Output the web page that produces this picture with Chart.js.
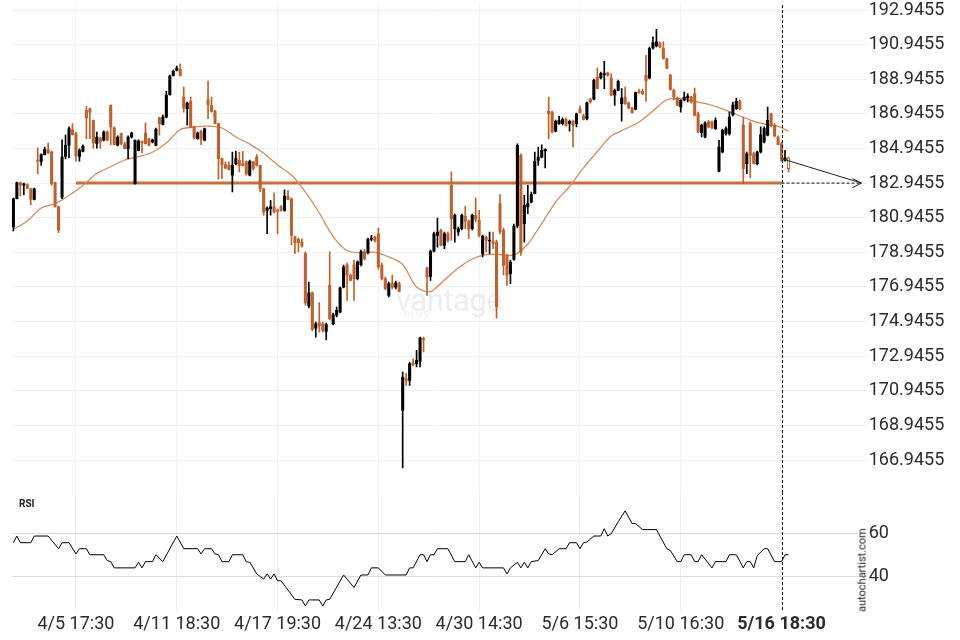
<!DOCTYPE html>
<html>
<head>
<meta charset="utf-8">
<script src="https://cdn.jsdelivr.net/npm/chart.js@4.4.1/dist/chart.umd.min.js"></script>
<style>
  body { margin: 0; background: #fff; }
  #wrap { position: relative; width: 960px; height: 640px; overflow: hidden; font-family: Roboto, sans-serif; }
  canvas { position: absolute; left: 0; }
  #main { top: 2px; }
  #rsi { top: 492px; }
  .lbl { position: absolute; color: #222; white-space: nowrap; }
  #rsiTitle { left: 19px; top: 498px; font-size: 10px; font-weight: bold; }
  #brand { left: 862px; top: 570px; font-size: 11px; transform: translate(-50%, -50%) rotate(-90deg); }
  #wm { left: 396px; top: 282px; font-size: 31px; color: rgba(170,178,185,0.24); letter-spacing: -0.5px; }
  #wm2 { left: 404px; top: 310px; font-size: 9px; color: rgba(200,110,60,0.18); letter-spacing: 1px; }
</style>
</head>
<body>
<div id="wrap">
  <div class="lbl" id="wm">vantage</div>
  <div class="lbl" id="wm2">PLUS</div>
  <canvas id="main" width="960" height="492"></canvas>
  <canvas id="rsi" width="960" height="148"></canvas>
  <div class="lbl" id="rsiTitle">RSI</div>
  <div class="lbl" id="brand">autochartist.com</div>
</div>
<script>
// slots on the time axis (candles + empty room for the projection)
const slotCount = 246;
const tickIdx = [18, 47, 76, 105, 134, 163, 192, 221];
const tickText = ['4/5 17:30', '4/11 18:30', '4/17 19:30', '4/24 13:30', '4/30 14:30', '5/6 15:30', '5/10 16:30', '5/16 18:30'];
const yTicks = [166.9455, 168.9455, 170.9455, 172.9455, 174.9455, 176.9455, 178.9455, 180.9455, 182.9455, 184.9455, 186.9455, 188.9455, 190.9455, 192.9455];
const rsiTicks = [40, 60];

// hourly candles
const opens = [180.41,182.04,182.97,182.82,182.85,182.62,182.01,184.28,184.20,184.59,
184.88,184.74,182.97,181.57,182.14,184.49,185.13,186.03,185.80,184.49,
184.78,187.15,187.24,186.57,185.22,185.55,185.42,185.90,187.44,186.13,
185.13,185.80,185.22,184.93,185.61,182.91,184.84,185.38,185.84,185.51,
185.32,185.13,186.71,186.34,186.76,188.05,189.17,189.46,189.52,187.92,
187.24,187.67,186.19,185.51,185.94,185.42,187.76,187.44,187.11,186.38,
184.36,184.01,183.97,183.40,184.07,184.26,184.07,184.17,183.40,184.17,
184.45,183.97,182.62,181.37,181.47,181.57,181.37,181.57,181.37,182.20,
182.04,179.83,179.70,179.54,178.87,175.85,176.61,174.57,174.88,174.82,
174.38,177.04,174.82,175.31,175.50,176.94,178.23,177.62,178.23,177.42,
178.23,178.97,178.92,179.70,179.83,180.02,178.19,177.42,176.46,177.14,
176.94,177.14,169.82,171.65,171.55,172.57,172.51,172.65,173.96,178.04,
177.56,179.01,179.93,180.22,179.35,180.02,182.82,180.31,180.12,180.31,
181.03,180.74,180.31,181.08,180.80,178.85,179.83,179.60,179.58,179.54,
181.76,180.22,178.77,177.71,178.54,180.47,184.55,180.60,181.57,181.85,
182.33,184.26,184.45,184.80,187.09,187.05,185.94,186.38,186.38,186.61,
186.38,186.52,186.38,187.24,186.82,186.67,187.79,187.79,189.07,189.02,
189.21,189.32,189.02,188.02,188.31,187.53,187.92,187.59,187.28,187.21,
188.21,188.25,189.17,189.02,190.75,190.87,191.00,190.71,190.13,189.17,
188.31,187.86,187.34,187.73,187.86,187.92,188.11,186.95,185.86,185.61,
186.48,186.48,186.09,183.63,184.74,185.80,185.80,186.88,187.24,187.67,
186.28,184.07,186.38,184.64,184.07,184.74,185.32,185.71,186.95,186.28,
185.61,185.22,184.26,184.40];
const highs = [182.08,183.01,183.01,182.95,182.91,182.66,182.66,184.99,184.63,185.03,
185.26,184.80,183.01,181.62,185.45,185.74,186.19,186.38,185.90,184.92,
185.15,187.38,187.28,186.59,185.90,185.61,185.96,185.96,187.47,186.19,
185.67,185.84,185.32,185.67,185.90,185.44,185.44,185.38,186.42,185.55,
185.49,186.13,186.76,186.88,188.25,189.19,189.48,189.71,189.84,188.50,
187.63,187.92,186.24,185.90,186.01,186.13,188.84,187.92,187.17,186.42,
184.40,184.17,184.17,184.74,184.80,184.74,184.78,184.22,184.28,184.22,
184.59,183.99,182.66,181.57,181.95,182.39,181.45,181.66,182.55,182.53,
182.08,179.89,179.77,179.73,178.97,177.23,176.66,174.92,176.04,174.92,
174.86,178.97,175.44,175.79,176.94,178.21,178.33,177.69,178.50,178.45,
179.08,179.12,179.77,179.93,179.89,180.35,178.33,177.52,177.23,177.65,
177.29,177.23,172.03,171.94,172.61,172.80,173.29,174.05,174.05,178.10,
179.08,180.12,180.93,180.29,180.12,180.12,183.59,181.16,180.41,181.16,
181.62,180.81,181.16,182.08,181.37,179.95,179.89,180.12,180.12,179.66,
182.28,180.35,178.85,178.50,180.58,185.22,184.63,182.24,182.82,182.43,
184.74,185.03,185.16,184.92,187.92,187.11,186.59,186.80,186.71,186.71,
186.59,186.59,186.99,187.40,186.94,187.63,187.86,188.96,189.59,189.36,
189.98,189.36,189.27,188.38,188.90,188.40,188.50,187.63,187.34,188.21,
188.38,188.38,190.33,190.81,191.39,191.83,191.10,191.10,190.17,189.25,
188.38,187.92,187.75,188.21,188.11,187.98,188.44,187.05,186.36,186.48,
186.57,186.53,186.71,185.42,186.07,186.19,187.05,187.63,187.86,187.75,
186.76,184.74,186.48,184.74,184.80,186.19,186.19,187.34,186.99,186.38,
185.67,185.32,184.84,184.45];
const lows = [180.18,182.03,182.20,182.27,182.62,181.70,181.97,183.49,183.97,184.57,
184.64,182.83,181.57,180.08,182.04,184.35,184.40,185.72,184.21,184.22,
184.74,185.51,185.51,184.97,184.97,184.97,185.38,185.38,185.16,185.15,
185.09,185.15,184.92,184.36,185.55,182.89,184.80,184.70,185.20,185.09,
185.26,185.09,185.71,186.30,186.71,188.03,189.13,189.42,189.13,187.05,
186.29,186.13,185.49,185.49,185.16,185.38,186.67,187.05,186.36,183.17,
183.20,183.76,183.70,182.43,183.99,183.59,183.93,183.41,183.36,183.70,
183.93,182.43,181.09,180.02,181.10,181.22,180.02,181.33,181.33,181.97,
179.37,178.87,178.97,179.25,175.90,175.73,174.40,174.05,174.34,174.34,
173.88,175.04,174.75,175.21,175.44,176.89,176.17,177.29,176.17,177.35,
178.16,178.50,178.85,179.60,179.54,177.98,177.35,176.77,176.37,176.83,
176.83,176.66,166.49,171.26,171.26,172.38,172.32,172.32,173.19,176.46,
177.33,178.97,179.25,179.31,179.16,179.54,179.64,179.54,179.93,180.24,
180.31,179.73,180.24,180.70,179.83,178.68,178.97,178.87,179.16,175.15,
180.01,177.64,177.04,177.13,178.50,180.35,178.77,179.54,181.18,181.80,
182.32,183.97,184.40,183.82,185.51,185.84,185.90,186.33,186.30,186.24,
185.94,185.03,186.19,186.99,186.59,186.59,187.57,187.75,188.38,188.96,
188.40,189.13,187.98,187.44,188.27,186.52,187.49,187.23,186.99,187.17,
188.12,188.06,187.67,188.96,190.69,190.81,190.75,190.11,189.54,188.32,
187.75,187.40,187.05,187.69,187.63,187.57,186.82,185.84,185.61,185.55,
186.13,186.07,186.04,183.59,184.69,185.72,185.72,186.82,187.20,187.17,
182.91,183.49,183.24,184.05,183.99,184.69,185.26,185.67,186.19,185.61,
185.15,184.22,184.22,183.59];
const closes = [182.04,182.97,182.82,182.91,182.66,182.01,182.62,184.22,184.59,184.88,
184.70,182.91,181.57,180.22,184.45,185.13,186.09,185.74,184.51,184.84,
185.07,186.71,187.05,185.28,185.61,185.32,185.90,185.42,186.19,185.16,
185.61,185.22,184.93,185.61,185.84,185.42,185.38,185.28,185.22,185.13,
185.43,186.05,186.38,186.76,188.02,189.13,189.40,189.59,189.17,187.28,
187.57,186.19,185.55,185.84,185.48,186.09,187.47,187.09,186.38,184.36,
184.01,183.82,183.74,183.97,184.36,183.97,183.97,183.49,184.20,183.78,
183.97,182.62,181.28,181.51,181.57,181.28,181.32,181.37,182.20,182.01,
179.93,179.50,179.50,179.31,176.02,176.61,174.50,174.82,174.69,174.44,
174.77,175.11,175.34,175.60,176.89,178.10,177.62,177.33,177.42,178.39,
178.97,178.58,179.70,179.77,179.64,178.10,177.42,176.85,177.14,176.94,
177.19,176.69,171.74,171.55,172.51,172.45,172.71,174.00,173.92,177.52,
179.01,180.02,180.12,179.35,180.02,179.64,180.89,181.08,180.31,181.08,
180.74,180.28,181.08,180.85,179.93,179.89,179.64,179.64,179.45,175.79,
180.12,178.20,177.62,178.39,180.47,185.13,178.97,181.66,181.76,182.28,
184.20,184.45,184.84,184.90,186.95,185.90,186.52,186.57,186.61,186.28,
186.52,186.28,186.95,187.01,186.63,187.59,187.63,188.88,188.40,189.27,
189.27,189.17,188.02,188.31,188.83,187.86,187.53,187.28,187.01,188.17,
188.17,188.11,188.83,190.71,191.06,191.10,190.81,190.13,189.59,188.36,
187.92,187.44,187.73,187.92,187.98,187.63,186.86,185.90,186.28,186.42,
186.19,186.13,186.57,185.03,185.99,186.09,186.76,187.46,187.67,187.24,
183.78,184.64,184.55,184.07,184.74,185.74,186.09,186.57,186.28,185.67,
185.16,184.26,184.40,183.78];

// moving average
const maIdx = [0,4,8,12,16,20,24,28,32,36,40,44,48,52,56,60,64,68,72,76,80,84,88,92,96,100,104,108,112,116,120,124,128,132,136,140,144,148,152,156,160,164,168,172,176,180,184,188,192,196,200,204,208,212,216,220,223];
const maVal = [180.28,180.76,181.51,181.76,182.23,182.81,183.50,183.89,184.28,184.47,184.73,185.26,186.04,186.19,186.24,186.13,185.61,185.20,184.67,183.99,183.41,182.44,181.22,179.86,179.05,178.91,178.95,178.68,178.24,176.94,176.68,177.35,178.04,178.56,178.81,178.82,178.79,179.43,180.61,181.85,182.75,183.82,184.77,185.67,186.07,186.48,187.11,187.76,187.82,187.66,187.49,187.23,186.91,186.59,186.36,186.22,185.94];

// RSI turning points
const rsiIdx = [0,1,2,5,6,10,13,14,16,18,19,21,22,26,27,28,29,35,36,37,38,40,41,43,47,49,53,54,55,57,58,59,60,62,63,66,67,68,69,70,72,73,74,75,76,77,81,83,84,85,88,89,90,91,95,98,100,102,103,105,107,113,114,115,117,118,119,120,121,122,125,127,130,131,133,134,135,141,142,143,145,146,147,148,149,151,153,154,155,157,159,160,162,163,164,165,167,169,170,171,172,174,176,178,179,181,185,188,189,191,192,193,195,196,197,198,201,202,205,206,208,210,211,212,213,214,216,217,219,221,222,223];
const rsiVal = [55.8,58.9,55.8,55.8,58.9,58.9,53.0,55.8,55.8,50.6,53.0,53.0,50.2,50.2,47.5,47.0,44.1,44.1,46.7,44.1,47.0,47.0,50.2,47.0,58.9,53.0,53.0,50.6,53.0,53.0,50.6,50.2,47.0,47.0,50.2,50.2,47.0,46.7,44.1,41.3,38.9,41.3,38.9,41.3,38.1,38.1,29.5,29.2,26.4,29.2,29.2,26.4,29.2,29.5,40.8,35.0,40.8,40.8,44.1,44.1,40.8,40.8,44.1,44.1,50.2,50.2,47.0,50.2,50.2,53.0,53.0,47.0,47.0,50.2,44.1,46.7,44.1,44.1,41.3,44.1,46.7,44.1,46.7,44.1,47.0,47.5,53.0,50.6,50.2,53.0,53.0,55.8,55.8,53.0,55.8,56.1,58.9,58.9,62.3,58.9,60.0,65.5,70.6,64.7,64.7,61.9,61.9,53.0,52.2,47.0,47.0,50.2,50.2,47.0,47.0,50.2,44.1,47.0,47.0,50.2,50.2,44.1,47.0,47.0,44.1,49.8,53.0,53.0,47.0,47.0,50.2,50.2];

// pattern level and projection
const level = 182.9455;
const levelIdx = [18, 221];
const arrowIdx = [221, 244];
const arrowVal = [184.36, 182.9455];
const nowIdx = 221;

const upColor = '#000000';
const downColor = '#c0612b';
const font = { family: 'Roboto', size: 18 };
const tickColor = '#2b2b2b';

const labels = Array(slotCount).fill('');
tickIdx.forEach((k, j) => { labels[k] = tickText[j]; });
function sparse(idx, val) {
  const a = Array(slotCount).fill(null);
  idx.forEach((k, j) => { a[k] = val[j]; });
  return a;
}
const lastIdx = opens.length - 1;
const candleColor = opens.map((o, k) => closes[k] >= o ? upColor : downColor);

const nowLine = {
  id: 'nowLine',
  afterDatasetsDraw(chart, args, opts) {
    const c = chart.ctx;
    const x = Math.round(chart.scales.x.getPixelForValue(nowIdx)) + 0.5;
    c.save();
    c.strokeStyle = '#111';
    c.lineWidth = 1;
    c.setLineDash([3, 2]);
    c.beginPath();
    c.moveTo(x, opts.top);
    c.lineTo(x, opts.bottom === 'area' ? chart.chartArea.bottom : chart.height);
    c.stroke();
    c.restore();
  }
};

const arrowHead = {
  id: 'arrowHead',
  afterDatasetsDraw(chart) {
    const c = chart.ctx;
    const x = chart.scales.x.getPixelForValue(arrowIdx[1]);
    const y = chart.scales.y.getPixelForValue(arrowVal[1]);
    c.save();
    c.strokeStyle = '#222';
    c.lineWidth = 1;
    c.beginPath();
    c.moveTo(x - 9, y - 4.5);
    c.lineTo(x, y);
    c.lineTo(x - 9, y + 4.5);
    c.stroke();
    c.restore();
  }
};

function fixWidth(axis) {
  axis.width = 93.3;
  axis.paddingTop = 0;
  axis.paddingBottom = 0;
}
function fixPad(axis) {
  axis.paddingLeft = 0;
  axis.paddingRight = 0;
}
function setTimeTicks(axis) {
  axis.ticks = tickIdx.map(v => ({ value: v }));
}

new Chart(document.getElementById('main'), {
  type: 'bar',
  data: {
    labels: labels,
    datasets: [
      {
        type: 'line',
        data: sparse(arrowIdx, arrowVal),
        borderColor: '#222',
        borderWidth: 1,
        pointRadius: 0,
        spanGaps: true,
        order: 0
      },
      {
        type: 'line',
        data: sparse(arrowIdx, [level, level]),
        borderColor: '#111',
        borderWidth: 1,
        borderDash: [3, 2],
        pointRadius: 0,
        spanGaps: true,
        order: 0
      },
      {
        data: opens.map((o, k) => [o, closes[k]]),
        backgroundColor: candleColor.map((c, k) => k === lastIdx ? '#ffffff' : c),
        borderColor: candleColor,
        borderWidth: opens.map((o, k) => k === lastIdx ? 1 : 0),
        borderSkipped: false,
        barThickness: 2.4,
        minBarLength: 1,
        grouped: false,
        order: 1
      },
      {
        data: lows.map((l, k) => [l, highs[k]]),
        backgroundColor: candleColor,
        barThickness: 1,
        grouped: false,
        order: 2
      },
      {
        type: 'line',
        data: sparse(maIdx, maVal),
        borderColor: '#d48c5e',
        borderWidth: 1.3,
        pointRadius: 0,
        spanGaps: true,
        tension: 0.3,
        order: 3
      },
      {
        type: 'line',
        data: sparse(levelIdx, [level, level]),
        borderColor: 'rgba(196,98,44,0.92)',
        borderWidth: 3,
        pointRadius: 0,
        spanGaps: true,
        order: 4
      }
    ]
  },
  options: {
    responsive: false,
    devicePixelRatio: 1,
    animation: false,
    events: [],
    layout: { padding: { left: 11.66, right: 0, top: 0, bottom: 2 } },
    plugins: {
      legend: { display: false },
      tooltip: { enabled: false },
      nowLine: { top: 3 }
    },
    scales: {
      x: {
        offset: true,
        afterBuildTicks: setTimeTicks,
        afterFit: fixPad,
        ticks: { display: false, autoSkip: false },
        grid: { color: '#f2f2f2', offset: false, drawTicks: false },
        border: { display: false }
      },
      y: {
        position: 'right',
        min: 165.101,
        max: 193.408,
        beginAtZero: false,
        afterBuildTicks: axis => { axis.ticks = yTicks.map(v => ({ value: v })); },
        afterFit: fixWidth,
        ticks: { font: font, color: tickColor, padding: 2, callback: v => v.toFixed(4) },
        grid: { color: '#f0f0f0', drawTicks: false },
        border: { display: false }
      }
    }
  },
  plugins: [nowLine, arrowHead]
});

new Chart(document.getElementById('rsi'), {
  type: 'line',
  data: {
    labels: labels,
    datasets: [{
      data: sparse(rsiIdx, rsiVal),
      borderColor: '#000',
      borderWidth: 1,
      pointRadius: 0,
      spanGaps: true,
      tension: 0
    }]
  },
  options: {
    responsive: false,
    devicePixelRatio: 1,
    animation: false,
    events: [],
    layout: { padding: { left: 11.66, right: 0, top: 1, bottom: 1.4 } },
    plugins: {
      legend: { display: false },
      tooltip: { enabled: false },
      nowLine: { top: 0, bottom: 'area' }
    },
    scales: {
      x: {
        offset: true,
        afterBuildTicks: setTimeTicks,
        afterFit: fixPad,
        ticks: {
          autoSkip: false,
          maxRotation: 0,
          padding: 3,
          color: tickColor,
          font: ctx => ({ family: 'Roboto', size: 18, weight: ctx.index === tickIdx.length - 1 ? 'bold' : 'normal' })
        },
        grid: { color: '#efefef', offset: false, drawTicks: false },
        border: { display: false }
      },
      y: {
        position: 'right',
        min: 24.06,
        max: 78.89,
        afterBuildTicks: axis => { axis.ticks = rsiTicks.map(v => ({ value: v })); },
        afterFit: fixWidth,
        ticks: { font: font, color: tickColor, padding: 2 },
        grid: { color: '#dcdcdc', drawTicks: false },
        border: { display: false }
      }
    }
  },
  plugins: [nowLine]
});
</script>
</body>
</html>
